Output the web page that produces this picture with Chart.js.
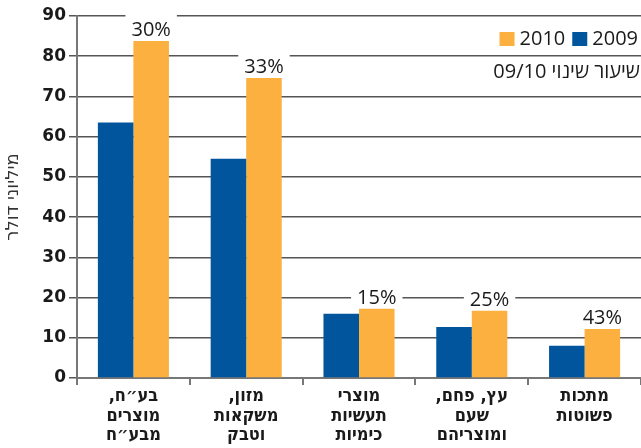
<!DOCTYPE html>
<html>
<head>
<meta charset="utf-8">
<script src="https://cdn.jsdelivr.net/npm/chart.js@4"></script>
<style>
  body { margin: 0; background: #fff; }
  canvas { display: block; }
</style>
</head>
<body>
<canvas id="tradeChart" width="641" height="448" dir="rtl"></canvas>
<script>
// categories (Hebrew, one array entry per line)
var categories = [
    ['בע״ח,', 'מוצרים', 'מבע״ח'],
    ['מזון,', 'משקאות', 'וטבק'],
    ['מוצרי', 'תעשיות', 'כימיות'],
    ['עץ, פחם,', 'שעם', 'ומוצריהם'],
    ['מתכות', 'פשוטות']
];
var values2009 = [63.5, 54.5, 16.0, 12.7, 8.0];
var values2010 = [83.8, 74.6, 17.2, 16.7, 12.2];
var changeLabels = ['30%', '33%', '15%', '25%', '43%'];
var yTicks = { min: 0, max: 90, step: 10 };

var BLUE = '#00559c';
var ORANGE = '#fbb040';

document.addEventListener("DOMContentLoaded", function () {
    // percent change labels above the 2010 bars, on a white box that cuts the grid
    var changeLabelPlugin = {
        id: 'changeLabels',
        afterDatasetsDraw: function (chart) {
            var ctx = chart.ctx;
            var meta = chart.getDatasetMeta(1);
            ctx.save();
            ctx.font = '20px "Open Sans"';
            ctx.textAlign = 'center';
            ctx.textBaseline = 'alphabetic';
            meta.data.forEach(function (bar, i) {
                var text = changeLabels[i];
                var w = ctx.measureText(text).width;
                var base = bar.y - 5;
                ctx.fillStyle = '#fff';
                ctx.fillRect(bar.x - w / 2 - 6, base - 23, w + 12, 21);
                ctx.fillStyle = '#1a1a1a';
                ctx.fillText(text, bar.x, base);
            });
            ctx.restore();
        }
    };

    // legend in the top right corner, drawn right to left
    var cornerLegendPlugin = {
        id: 'cornerLegend',
        afterDraw: function (chart) {
            var ctx = chart.ctx;
            var x = chart.chartArea.right - 3;
            ctx.save();
            ctx.font = '20px "Open Sans"';
            ctx.textBaseline = 'middle';
            ctx.textAlign = 'right';
            chart.data.datasets.forEach(function (ds) {
                var w = ctx.measureText(ds.label).width;
                ctx.fillStyle = '#1a1a1a';
                ctx.fillText(ds.label, x, 39);
                var boxLeft = x - w - 5 - 15;
                ctx.fillStyle = ds.backgroundColor;
                ctx.fillRect(boxLeft, 32, 15, 14);
                x = boxLeft - 7;
            });
            ctx.fillStyle = '#1a1a1a';
            ctx.direction = 'rtl';
            ctx.textAlign = 'right';
            ctx.fillText('שיעור שינוי 09/10', chart.chartArea.right - 1, 72);
            ctx.restore();
        }
    };

    var ctxTrade = document.getElementById('tradeChart').getContext('2d');
    var tradeChart = new Chart(ctxTrade, {
        type: 'bar',
        data: {
            labels: categories,
            datasets: [{
                label: '2009',
                data: values2009,
                backgroundColor: BLUE,
                borderWidth: 0
            }, {
                label: '2010',
                data: values2010,
                backgroundColor: ORANGE,
                borderWidth: 0
            }]
        },
        options: {
            responsive: false,
            animation: false,
            layout: { padding: { top: 16, right: 0, left: 0, bottom: 0 } },
            datasets: {
                bar: { categoryPercentage: 0.63, barPercentage: 1 }
            },
            plugins: {
                legend: { display: false },
                tooltip: { enabled: false }
            },
            scales: {
                x: {
                    grid: { drawOnChartArea: false, drawTicks: true, tickLength: 7, color: '#777', lineWidth: 2, offset: true },
                    border: { color: '#777', width: 2 },
                    ticks: {
                        font: { family: 'DejaVu Sans Condensed', weight: 'bold', size: 18, lineHeight: 1.08 },
                        color: '#1a1a1a',
                        maxRotation: 0,
                        autoSkip: false,
                        padding: 2
                    },
                    afterFit: function (scale) { scale.height = 70; }
                },
                y: {
                    min: yTicks.min,
                    max: yTicks.max,
                    ticks: {
                        stepSize: yTicks.step,
                        font: { family: 'DejaVu Sans', weight: 'bold', size: 17 },
                        color: '#1a1a1a',
                        padding: 3
                    },
                    grid: { color: '#555', lineWidth: 1.5, tickLength: 8 },
                    border: { color: '#777', width: 2 },
                    title: {
                        display: true,
                        text: 'מיליוני דולר',
                        font: { family: 'DejaVu Sans', size: 18 },
                        color: '#333',
                        padding: { top: 3, bottom: 0 }
                    },
                    afterFit: function (scale) { scale.width = 77; }
                }
            }
        },
        plugins: [changeLabelPlugin, cornerLegendPlugin]
    });
});
</script>
</body>
</html>
